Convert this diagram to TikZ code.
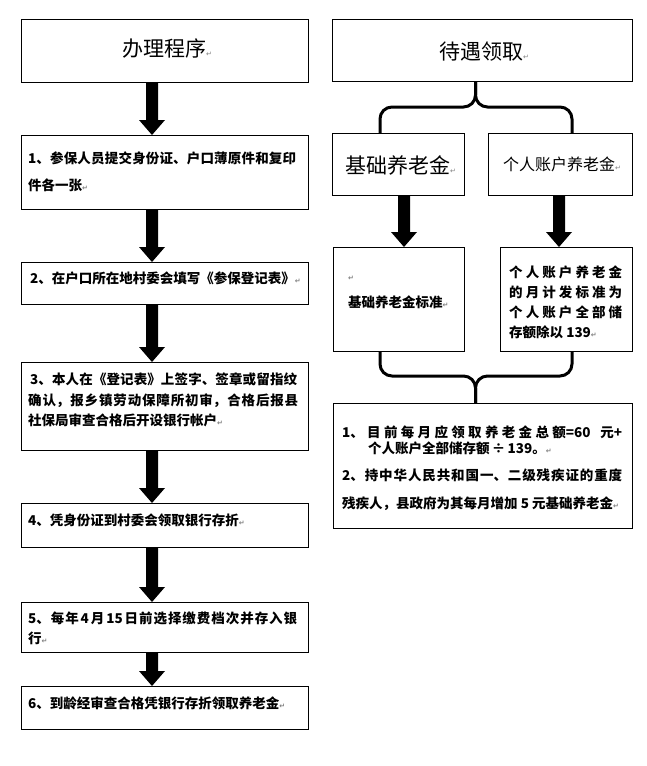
\documentclass[tikz,border=0pt]{standalone}
\usepackage{fontspec}
\newfontfamily\cjk{Noto Sans CJK SC}
\newfontfamily\dejavu{DejaVu Sans}
\usetikzlibrary{calc}
\newcommand\parmark{{\dejavu\fontsize{7}{8}\selectfont\color{gray}↵}}
\newcommand\spread[2]{\makebox[#1][s]{\spaceskip=0pt plus 1fil\relax #2}}
\tikzset{
  box/.style={draw, line width=1pt, anchor=north west, inner sep=0pt},
  txt/.style={anchor=base west, inner sep=0pt, font=\cjk\bfseries\fontsize{13.5}{16}\selectfont},
  ttl/.style={anchor=base west, inner sep=0pt, font=\cjk\fontsize{21}{24}\selectfont},
  brace/.style={line width=3pt, rounded corners=12pt},
}
\newcommand\blockarrow[3]{\fill let \p1=(#2.south), \p2=(#3.north) in
  ({#1-6},\y1) -- ({#1+6},\y1) -- ({#1+6},{\y2+15pt}) -- ({#1+13},{\y2+15pt}) -- (#1,\y2)
  -- ({#1-13},{\y2+15pt}) -- ({#1-6},{\y2+15pt}) -- cycle;}
\begin{document}
\begin{tikzpicture}[x=1pt,y=-1pt]
\fill[white] (0,0) rectangle (647,766);
\useasboundingbox (0,0) rectangle (647,766);
% left column boxes
\node[box, minimum width=287pt, minimum height=63pt] (l0) at (21,19) {};
\node[box, minimum width=287pt, minimum height=74pt] (s1) at (21,135) {};
\node[box, minimum width=287pt, minimum height=42pt] (s2) at (21,262) {};
\node[box, minimum width=287pt, minimum height=88pt] (s3) at (21,362) {};
\node[box, minimum width=287pt, minimum height=44pt] (s4) at (21,503) {};
\node[box, minimum width=287pt, minimum height=50pt] (s5) at (21,602) {};
\node[box, minimum width=287pt, minimum height=43pt] (s6) at (21,686) {};
% right column boxes
\node[box, minimum width=300pt, minimum height=62pt] (r0) at (332,19) {};
\node[box, minimum width=132pt, minimum height=62pt] (rb1) at (332,133) {};
\node[box, minimum width=144pt, minimum height=62pt] (rb2) at (488,133) {};
\node[box, minimum width=131pt, minimum height=104pt] (rc1) at (333,247) {};
\node[box, minimum width=132pt, minimum height=104pt] (rc2) at (500,247) {};
\node[box, minimum width=299pt, minimum height=125pt] (rd) at (333,403) {};
% texts left
\node[ttl] (l0t) at (122,56) {办理程序\parmark};
\node[txt] (s1a) at (28,163) {\spread{268pt}{1、 参 保 人 员 提 交 身 份 证、 户 口 薄 原 件 和 复 印}};
\node[txt] (s1b) at (28,190) {件各一张\parmark};
\node[txt] (s2a) at (30,283) {2、在户口所在地村委会填写《参保登记表》\parmark};
\node[txt] (s3a) at (30,384) {\spread{267pt}{3、 本 人 在 《登 记 表》 上 签 字、 签 章 或 留 指 纹}};
\node[txt] (s3b) at (28,405) {\spread{270pt}{确 认， 报 乡 镇 劳 动 保 障 所 初 审， 合 格 后 报 县}};
\node[txt] (s3c) at (28,425) {社保局审查合格后开设银行帐户\parmark};
\node[txt] (s4a) at (28,525) {4、凭身份证到村委会领取银行存折\parmark};
\node[txt] (s5a) at (28,623) {\spread{269pt}{5、 每 年 \ 4 \ 月 \ 15 \ 日 前 选 择 缴 费 档 次 并 存 入 银}};
\node[txt] (s5b) at (28,643) {行\parmark};
\node[txt] (s6a) at (28,708) {6、到龄经审查合格凭银行存折领取养老金\parmark};
% texts right
\node[ttl] (r0t) at (439,59) {待遇领取\parmark};
\node[ttl] (rb1t) at (345,173) {基础养老金\parmark};
\node[txt, font=\cjk\fontsize{16}{18}\selectfont] (rb2t) at (503,170) {个人账户养老金\parmark};
\node[txt] (rc1p) at (348,280) {\parmark};
\node[txt] (rc1t) at (348,307) {基础养老金标准\parmark};
\node[txt] (rc2a) at (509,277) {\spread{113pt}{个 人 账 户 养 老 金}};
\node[txt] (rc2b) at (509,297) {\spread{113pt}{的 月 计 发 标 准 为}};
\node[txt] (rc2c) at (509,317) {\spread{113pt}{个 人 账 户 全 部 储}};
\node[txt] (rc2d) at (509,337) {存额除以 139\parmark};
\node[txt] (rda) at (342,437) {\spread{280pt}{1、 目 前 每 月 应 领 取 养 老 金 总 额=60 \ \ 元+}};
\node[txt] (rdb) at (368,453) {个人账户全部储存额\,÷\,139。\parmark};
\node[txt] (rdc) at (342,480) {\spread{280pt}{2、 持 中 华 人 民 共 和 国 一、 二 级 残 疾 证 的 重 度}};
\node[txt] (rdd) at (342,508) {残疾人，县政府为其每月增加 5 元基础养老金\parmark};
% block arrows
\blockarrow{152}{l0}{s1}
\blockarrow{152}{s1}{s2}
\blockarrow{152}{s2}{s3}
\blockarrow{152}{s3}{s4}
\blockarrow{152}{s4}{s5}
\blockarrow{152}{s5}{s6}
\blockarrow{404}{rb1}{rc1}
\blockarrow{559}{rb2}{rc2}
% braces
\coordinate (ta) at ($(r0.south)+(-7,0)$);
\coordinate (tl) at ($(rb1.north west)+(48,0)$);
\coordinate (tr) at ($(rb2.north west)+(84,0)$);
\draw[brace] (ta) |- ($(tl)+(0,-26)$) -- (tl);
\draw[brace] (ta) |- ($(tr)+(0,-26)$) -- (tr);
\coordinate (bl) at ($(rc1.south west)+(47,0)$);
\coordinate (br) at ($(rc2.south west)+(72,0)$);
\coordinate (bb) at ($(rd.north)+(-7.5,0)$);
\draw[brace] (bl) -- ($(bl)+(0,24)$) -| (bb);
\draw[brace] (br) -- ($(br)+(0,24)$) -| (bb);
\end{tikzpicture}
\end{document}
